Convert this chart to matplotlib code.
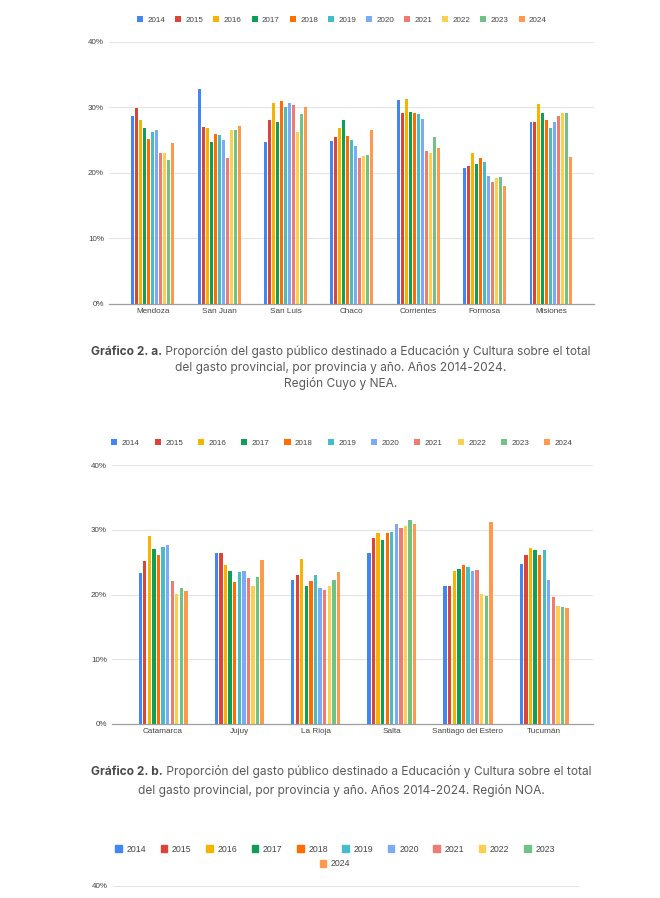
import numpy as np
import matplotlib
matplotlib.use("Agg")
import matplotlib.pyplot as plt

# datos (porcentaje del gasto total)
years = ["2014", "2015", "2016", "2017", "2018", "2019", "2020", "2021", "2022", "2023", "2024"]
colors = ["#4285f4", "#db4437", "#f4b400", "#0f9d58", "#ff6d01", "#46bdc6",
          "#7baaf7", "#f07b72", "#fcd04f", "#71c287", "#ff994d"]

prov_a = ["Mendoza", "San Juan", "San Luis", "Chaco", "Corrientes", "Formosa", "Misiones"]
mendoza = [28.7, 29.9, 28.0, 26.8, 25.2, 26.2, 26.5, 23.1, 23.1, 21.9, 24.5]
san_juan = [32.8, 27.0, 26.8, 24.7, 25.9, 25.7, 25.0, 22.3, 26.5, 26.5, 27.1]
san_luis = [24.7, 28.0, 30.7, 27.7, 31.0, 30.1, 30.7, 30.3, 26.2, 28.9, 30.0]
chaco = [24.8, 25.4, 26.9, 28.0, 25.6, 25.0, 24.1, 22.2, 22.6, 22.7, 26.5]
corrientes = [31.1, 29.2, 31.3, 29.3, 29.1, 28.9, 28.2, 23.4, 23.0, 25.4, 23.8]
formosa = [20.7, 21.0, 23.1, 21.4, 22.2, 21.7, 19.5, 18.6, 19.2, 19.3, 18.0]
misiones = [27.7, 27.8, 30.5, 29.1, 28.0, 26.9, 27.7, 28.7, 29.1, 29.1, 22.4]
vals_a = [mendoza, san_juan, san_luis, chaco, corrientes, formosa, misiones]

prov_b = ["Catamarca", "Jujuy", "La Rioja", "Salta", "Santiago del Estero", "Tucumán"]
catamarca = [23.3, 25.2, 29.1, 27.1, 26.1, 27.3, 27.6, 22.1, 20.1, 21.0, 20.6]
jujuy = [26.5, 26.4, 24.6, 23.7, 21.9, 23.5, 23.6, 22.6, 21.3, 22.7, 25.4]
la_rioja = [22.2, 23.1, 25.5, 21.4, 22.1, 23.1, 21.0, 20.7, 21.4, 22.2, 23.5]
salta = [26.5, 28.7, 29.6, 28.5, 29.5, 29.7, 31.0, 30.3, 30.6, 31.6, 30.9]
santiago = [21.3, 21.3, 23.6, 24.0, 24.6, 24.2, 23.6, 23.8, 20.1, 19.8, 31.2]
tucuman = [24.8, 26.1, 27.2, 26.9, 26.2, 26.9, 22.2, 19.6, 18.2, 18.1, 18.0]
vals_b = [catamarca, jujuy, la_rioja, salta, santiago, tucuman]

W, H = 660, 898
fig = plt.figure(figsize=(W / 100, H / 100), dpi=100)
TXT = "#444444"
CHART_FONT = ["Liberation Sans", "DejaVu Sans"]
CAP_FONT = ["Inter", "DejaVu Sans"]


def box(left, right, top, bottom):
    return [left / W, 1 - bottom / H, (right - left) / W, (bottom - top) / H]


def setup_axes(ax, cats=None, ticks=(0, 10, 20, 30, 40)):
    ax.set_ylim(0, 40)
    ax.set_yticks(list(ticks))
    ax.set_yticklabels(["%d%%" % t for t in ticks], family=CHART_FONT, fontsize=5.8, color=TXT)
    ax.grid(axis="y", color="#e4e4e4", linewidth=0.8)
    ax.set_axisbelow(True)
    for s in ["top", "right", "left"]:
        ax.spines[s].set_visible(False)
    ax.spines["bottom"].set_color("#9e9e9e")
    ax.spines["bottom"].set_linewidth(0.9)
    ax.tick_params(length=0, pad=3.6)
    if cats is not None:
        ax.set_xticks(np.arange(len(cats)))
        ax.set_xticklabels(cats, family=CHART_FONT, fontsize=5.9, color=TXT)
        ax.tick_params(axis="x", pad=3.2)
    else:
        ax.set_xticks([])


def bars(ax, cats, vals):
    x = np.arange(len(cats))
    data = np.array(vals)
    handles = []
    for i, yr in enumerate(years):
        b = ax.bar(x + (i - 5) * 0.06, data[:, i], width=0.044, color=colors[i], label=yr)
        handles.append(b)
    return handles


def legend(handles, labels, cx, cy, fs, colsp, ncol):
    fig.legend(handles, labels, loc="center", bbox_to_anchor=(cx / W, 1 - cy / H),
               ncol=ncol, frameon=False, handlelength=0.75, handleheight=0.75,
               handletextpad=0.55, columnspacing=colsp, borderpad=0, borderaxespad=0,
               prop={"family": CHART_FONT, "size": fs}, labelcolor=TXT)


# grafico a
ax1 = fig.add_axes(box(109, 594, 41.7, 304))
h1 = bars(ax1, prov_a, vals_a)
setup_axes(ax1, prov_a)
ax1.set_xlim(-0.66, 6.65)
legend(h1, years, 342, 20, 5.8, 1.22, 11)

# grafico b
ax2 = fig.add_axes(box(112, 593, 465.3, 724))
h2 = bars(ax2, prov_b, vals_b)
setup_axes(ax2, prov_b)
ax2.set_xlim(-0.67, 5.64)
legend(h2, years, 342, 443, 5.8, 1.86, 11)

# grafico c (solo se ve el comienzo)
ax3 = fig.add_axes(box(113, 579, 886, 1146))
setup_axes(ax3, ticks=(40,))
ax3.set_xlim(0, 1)
ax3.spines["bottom"].set_visible(False)
patches = [plt.Rectangle((0, 0), 1, 1, color=c) for c in colors]
legend(patches[:10], years[:10], 335, 849, 6.3, 1.65, 10)
legend(patches[10:], years[10:], 335, 864, 6.3, 1.65, 1)

# epigrafes
renderer = fig.canvas.get_renderer()


def caption(bold, rest, more, ys, cx=341, fs=8.6):
    t1 = fig.text(0, 1 - ys[0] / H, bold, weight="bold", color="#4a4a4a",
                  family=CAP_FONT, fontsize=fs, va="center")
    t2 = fig.text(0, 1 - ys[0] / H, rest, color="#5a5a5a",
                  family=CAP_FONT, fontsize=fs, va="center")
    w1 = t1.get_window_extent(renderer).width
    w2 = t2.get_window_extent(renderer).width
    start = cx - (w1 + w2) / 2
    t1.set_x(start / W)
    t2.set_x((start + w1) / W)
    for line, y in zip(more, ys[1:]):
        fig.text(cx / W, 1 - y / H, line, color="#5a5a5a", family=CAP_FONT,
                 fontsize=fs, ha="center", va="center")


caption("Gráfico 2. a.", " Proporción del gasto público destinado a Educación y Cultura sobre el total",
        ["del gasto provincial, por provincia y año. Años 2014-2024.", "Región Cuyo y NEA."],
        [352, 367.5, 383.5])
caption("Gráfico 2. b.", " Proporción del gasto público destinado a Educación y Cultura sobre el total",
        ["del gasto provincial, por provincia y año. Años 2014-2024. Región NOA."],
        [772, 790.5])

fig.savefig("out.png", dpi=100)
